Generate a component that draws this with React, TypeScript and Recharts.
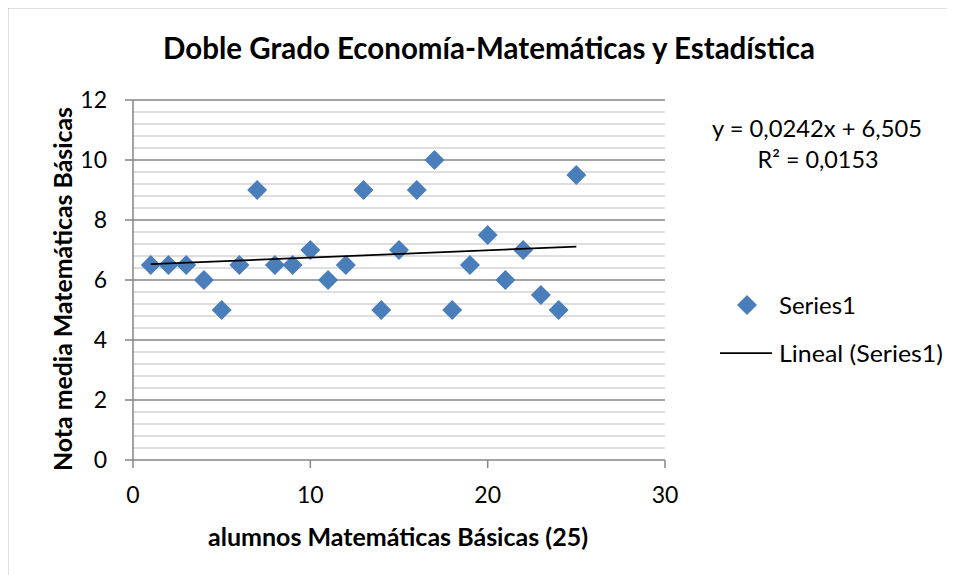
import React from "react";
import { ScatterChart, Scatter, XAxis, YAxis, CartesianGrid, Customized } from "recharts";

const alumnos = [1, 2, 3, 4, 5, 6, 7, 8, 9, 10, 11, 12, 13, 14, 15, 16, 17, 18, 19, 20, 21, 22, 23, 24, 25];
const notas = [6.5, 6.5, 6.5, 6, 5, 6.5, 9, 6.5, 6.5, 7, 6, 6.5, 9, 5, 7, 9, 10, 5, 6.5, 7.5, 6, 7, 5.5, 5, 9.5];
const xTicks = [0, 10, 20, 30];
const yTicks = [0, 2, 4, 6, 8, 10, 12];
const yMinor = [0.4, 0.8, 1.2, 1.6, 2.4, 2.8, 3.2, 3.6, 4.4, 4.8, 5.2, 5.6, 6.4, 6.8, 7.2, 7.6, 8.4, 8.8, 9.2, 9.6, 10.4, 10.8, 11.2, 11.6];
const yMajor = [2, 4, 6, 8, 10, 12];
const slope = 0.0242;
const intercept = 6.505;
const title = "Doble Grado Economía-Matemáticas y Estadística";
const xTitle = "alumnos Matemáticas Básicas (25)";
const yTitle = "Nota media Matemáticas Básicas";
const equation = "y = 0,0242x + 6,505";
const rSquared = "R² = 0,0153";
const seriesName = "Series1";
const trendName = "Lineal (Series1)";

const points = alumnos.map((x, i) => ({ x, y: notas[i] }));
const trendX = [alumnos[0], alumnos[alumnos.length - 1]];
const trend = trendX.map((x) => ({ x, y: intercept + slope * x }));

const BLUE = "#4a7ebb";
const FONT = "Lato, 'Open Sans', sans-serif";

const Diamond = (props: any) => {
  const { cx, cy } = props;
  if (cx == null || cy == null) return null;
  const r = 10;
  return <polygon points={`${cx},${cy - r} ${cx + r},${cy} ${cx},${cy + r} ${cx - r},${cy}`} fill={BLUE} />;
};

const Overlay = () => (
  <g fontFamily={FONT}>
    <line x1={7.5} y1={7} x2={7.5} y2={575} stroke="#868686" strokeWidth={1.5} />
    <line x1={7} y1={7.5} x2={955} y2={7.5} stroke="#868686" strokeWidth={1.5} />
    <text x={489} y={47} textAnchor="middle" dominantBaseline="central" fontSize={29.5} fontWeight="bold" fill="#000" textLength={652} lengthAdjust="spacingAndGlyphs">{title}</text>
    <text x={398} y={536} textAnchor="middle" dominantBaseline="central" fontSize={24} fontWeight="bold" fill="#000" textLength={380} lengthAdjust="spacingAndGlyphs">{xTitle}</text>
    <text x={62} y={289} transform="rotate(-90, 62, 289)" textAnchor="middle" dominantBaseline="central" fontSize={24} fontWeight="bold" fill="#000" textLength={364} lengthAdjust="spacingAndGlyphs">{yTitle}</text>
    <text x={817} y={128} textAnchor="middle" dominantBaseline="central" fontSize={23.5} fill="#000" textLength={210} lengthAdjust="spacingAndGlyphs">{equation}</text>
    <text x={818} y={159} textAnchor="middle" dominantBaseline="central" fontSize={23.5} fill="#000" textLength={121} lengthAdjust="spacingAndGlyphs">{rSquared}</text>
    <polygon points="747,295 757,305 747,315 737,305" fill={BLUE} />
    <text x={779} y={304} dominantBaseline="central" fontSize={24} fill="#000" textLength={77} lengthAdjust="spacingAndGlyphs">{seriesName}</text>
    <line x1={720} y1={353} x2={772} y2={353} stroke="#000" strokeWidth={1.75} />
    <text x={779} y={352} dominantBaseline="central" fontSize={24} fill="#000" textLength={164} lengthAdjust="spacingAndGlyphs">{trendName}</text>
  </g>
);

export default function App() {
  return (
    <div style={{ marginLeft: -8, marginTop: -8, width: 955, height: 575, background: "#fff" }}>
      <ScatterChart width={955} height={575} margin={{ top: 100, right: 290, bottom: 85, left: 93 }}>
        <CartesianGrid horizontal vertical={false} horizontalValues={yMinor} stroke="#bdbdbd" strokeWidth={1.2} />
        <CartesianGrid horizontal vertical={false} horizontalValues={yMajor} stroke="#868686" strokeWidth={1.5} />
        <XAxis
          type="number"
          dataKey="x"
          domain={[0, 30]}
          ticks={xTicks}
          height={30}
          tickSize={8}
          tickMargin={19}
          interval={0}
          stroke="#868686"
          axisLine={{ stroke: "#868686", strokeWidth: 1.5 }}
          tickLine={{ stroke: "#868686", strokeWidth: 1.5 }}
          tick={{ fill: "#000", fontSize: 23, fontFamily: FONT }}
          allowDataOverflow
        />
        <YAxis
          type="number"
          dataKey="y"
          domain={[0, 12]}
          ticks={yTicks}
          width={40}
          tickSize={8}
          tickMargin={18}
          interval={0}
          stroke="#868686"
          axisLine={{ stroke: "#868686", strokeWidth: 1.5 }}
          tickLine={{ stroke: "#868686", strokeWidth: 1.5 }}
          tick={{ fill: "#000", fontSize: 23, fontFamily: FONT }}
          allowDataOverflow
        />
        <Scatter data={points} shape={<Diamond />} isAnimationActive={false} name={seriesName} />
        <Scatter data={trend} line={{ stroke: "#000", strokeWidth: 1.75 }} shape={() => null} isAnimationActive={false} name={trendName} />
        <Customized component={Overlay} />
      </ScatterChart>
    </div>
  );
}
